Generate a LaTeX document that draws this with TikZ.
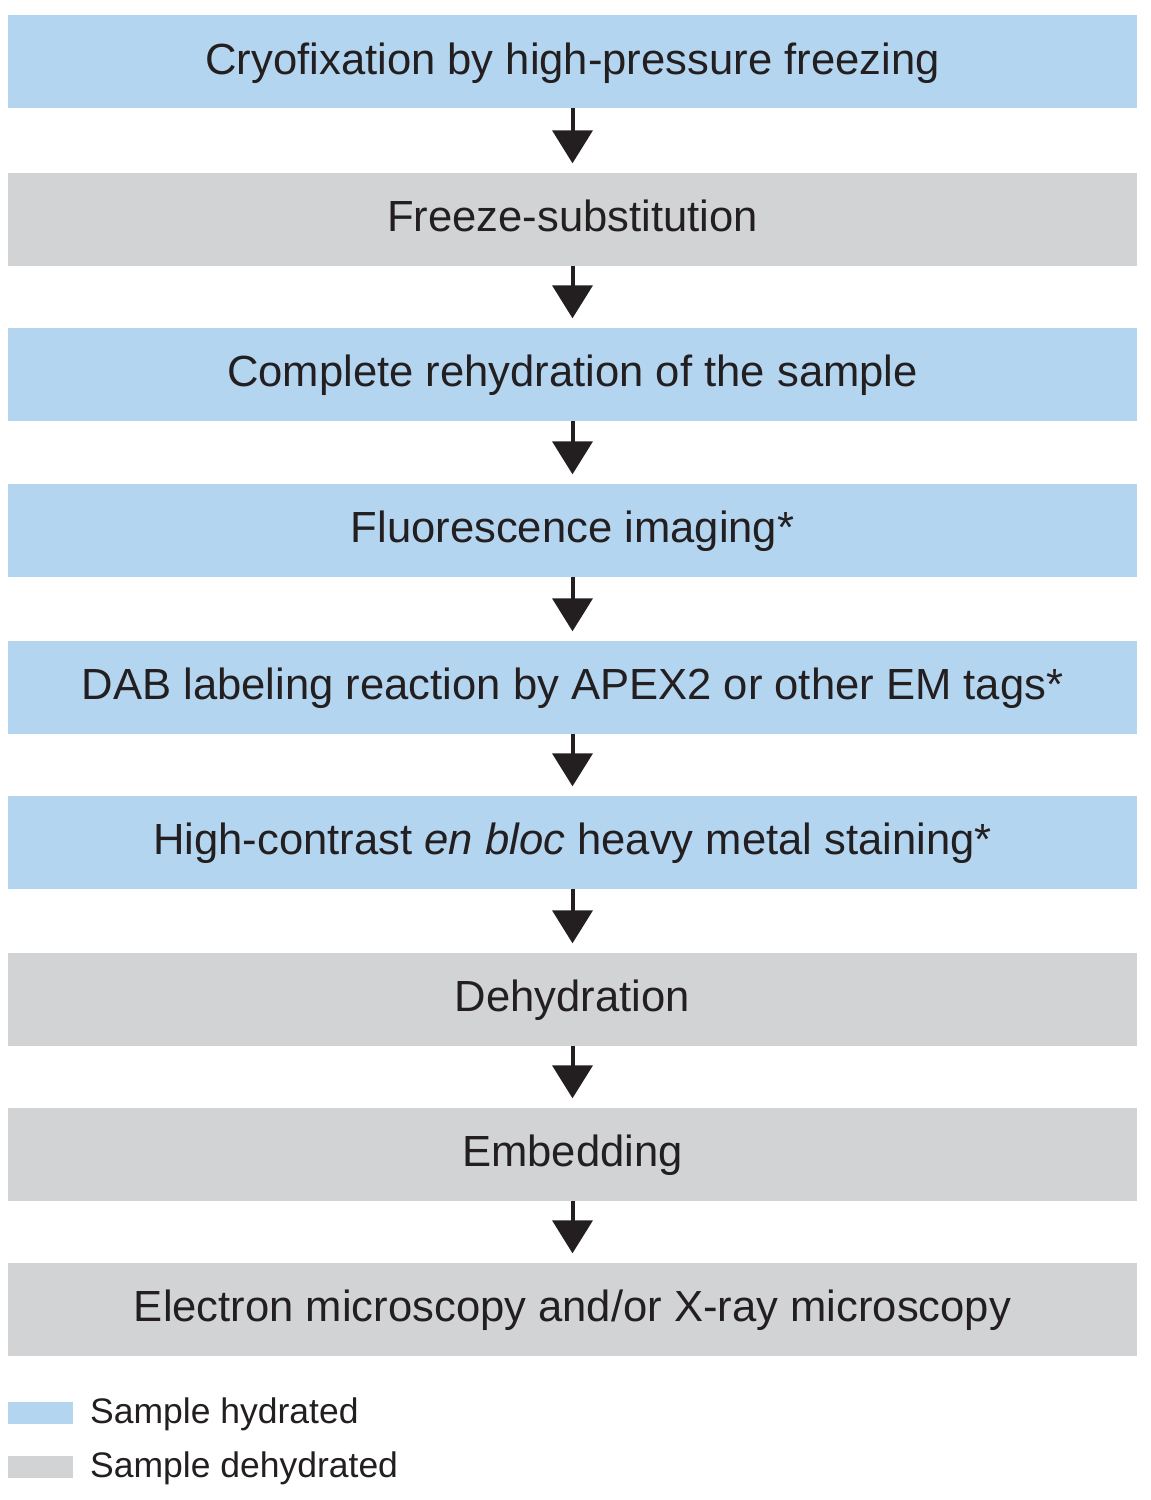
\documentclass[tikz,border=0pt]{standalone}
\usepackage{fontspec}
\setmainfont{Liberation Sans}
\usetikzlibrary{arrows.meta}
\definecolor{hyd}{HTML}{B3D5F0}
\definecolor{dehyd}{HTML}{D1D3D4}
\definecolor{ink}{HTML}{231F20}
\tikzset{
  stepbox/.style={rectangle, inner sep=0pt, minimum width=1129pt, minimum height=93pt,
    text height=33pt, text depth=8pt, text=ink,
    font=\fontsize{43.6}{50}\selectfont},
  hydbox/.style={stepbox, fill=hyd},
  dehydbox/.style={stepbox, fill=dehyd},
  flow/.style={draw=ink, line width=4pt, -{Triangle[width=40pt,length=33pt]}, shorten >=9pt},
  legbox/.style={rectangle, inner sep=0pt, minimum width=65pt, minimum height=22pt},
  legtext/.style={anchor=base west, inner sep=0pt, text=ink, font=\fontsize{35.5}{40}\selectfont}
}
\begin{document}
\begin{tikzpicture}[x=1pt,y=-1pt]
\useasboundingbox (0,0) rectangle (1151,1500);
\node[hydbox]   (n1) at (572.5,61.5) {Cryofixation by high-pressure freezing};
\node[dehydbox] (n2) at (572.5,219) {Freeze-substitution};
\node[hydbox]   (n3) at (572.5,374) {Complete rehydration of the sample};
\node[hydbox]   (n4) at (572.5,530) {Fluorescence imaging*};
\node[hydbox]   (n5) at (572.5,687) {DAB labeling reaction by APEX2 or other EM tags*};
\node[hydbox]   (n6) at (572.5,842) {High-contrast \textit{en bloc} heavy metal staining*};
\node[dehydbox] (n7) at (572.5,999) {Dehydration};
\node[dehydbox] (n8) at (572.5,1154) {Embedding};
\node[dehydbox] (n9) at (572.5,1309) {Electron microscopy and/or X-ray microscopy};
\foreach \a/\b in {n1/n2,n2/n3,n3/n4,n4/n5,n5/n6,n6/n7,n7/n8,n8/n9}
  \draw[flow] (\a.south) -- (\b.north);
\node[legbox, fill=hyd]   (l1) at (40.5,1413) {};
\node[legbox, fill=dehyd] (l2) at (40.5,1467) {};
\node[legtext] (t1) at (90,1423) {Sample hydrated};
\node[legtext] (t2) at (90,1477) {Sample dehydrated};
\end{tikzpicture}
\end{document}
